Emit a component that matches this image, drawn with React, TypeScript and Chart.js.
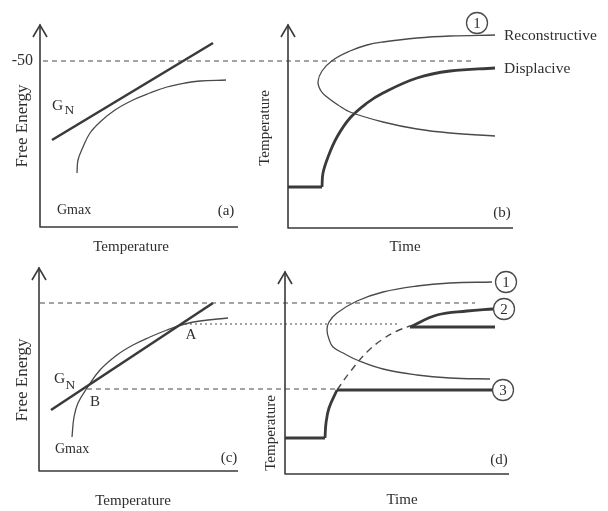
import React, { useEffect, useRef } from "react";
import { Chart, registerables } from "chart.js";

Chart.register(...registerables);

type P = [number, number];

// ---------- Panel (a): free energy vs temperature ----------
const axisA: P[] = [[40, 25], [40, 227], [238, 227]];
const arrowA: P[] = [[33, 37], [40, 25], [47, 37]];
const gnA: P[] = [[52, 140], [213, 43]];
const gmaxA: P[] = [[77, 173], [78, 160], [83, 147], [90, 133], [100, 122], [115, 110], [133, 100], [150, 93], [167, 87], [185, 83], [200, 81], [226, 80]];
const dashTop: P[] = [[43, 61], [473, 61]];

// ---------- Panel (b): temperature vs time ----------
const axisB: P[] = [[288, 25], [288, 228], [513, 228]];
const arrowB: P[] = [[281, 37], [288, 25], [295, 37]];
const reconB: P[] = [[495, 35], [450, 36], [417, 38], [383, 42], [367, 45], [350, 51], [333, 60], [322, 71], [318, 82], [321, 91], [327, 97], [338, 105], [350, 112], [383, 122], [417, 129], [450, 133], [495, 136]];
const displFlatB: P[] = [[288, 187], [322, 187]];
const displCurveB: P[] = [[322, 187], [323, 173], [328, 157], [337, 137], [350, 118], [367, 103], [383, 93], [417, 78], [450, 71], [495, 68]];

// ---------- Panel (c): free energy vs temperature ----------
const axisC: P[] = [[39, 268], [39, 471], [238, 471]];
const arrowC: P[] = [[32, 280], [39, 268], [46, 280]];
const gnC: P[] = [[51, 410], [213, 303]];
const gmaxC: P[] = [[72, 437], [74, 417], [78, 403], [87, 388], [100, 370], [117, 355], [133, 345], [150, 337], [167, 330], [185, 324], [200, 321], [228, 318]];
const dashMid: P[] = [[40, 303], [475, 303]];
const dotA: P[] = [[185, 324], [398, 324]];
const dashB: P[] = [[87, 389], [337, 389]];

// ---------- Panel (d): temperature vs time ----------
const axisD: P[] = [[285, 272], [285, 474], [509, 474]];
const arrowD: P[] = [[278, 284], [285, 272], [292, 284]];
const reconD: P[] = [[492, 282], [450, 283], [417, 286], [383, 292], [357, 301], [337, 313], [329, 322], [327, 330], [329, 339], [333, 347], [345, 354], [357, 360], [383, 369], [417, 375], [450, 378], [490, 379]];
const path3Flat: P[] = [[285, 438], [325, 438]];
const path3Rise: P[] = [[325, 438], [326, 423], [329, 408], [337, 390]];
const path3End: P[] = [[337, 390], [492, 390]];
const path2Dashed: P[] = [[337, 390], [350, 372], [367, 352], [383, 339], [397, 331], [410, 326]];
const path2Curve: P[] = [[410, 327], [437, 315], [467, 311], [493, 309]];
const path2Flat: P[] = [[410, 327], [495, 327]];

// circled path numbers
const circleLabels = ["1", "1", "2", "3"];
const circlePos: P[] = [[477, 23], [506, 282], [504, 309], [503, 390]];

const LINE = "#3a3a3a";
const THIN = "#4a4a4a";
const TEXT = "#2e2e2e";
const FONT = '"Liberation Serif", "Times New Roman", serif';

type T = { text: string; x: number; y: number; size: number; align?: CanvasTextAlign; rot?: number };
const texts: T[] = [
  // (a)
  { text: "-50", x: 33, y: 61, size: 16, align: "right" },
  { text: "G", x: 52, y: 106, size: 15.5, align: "left" },
  { text: "N", x: 64.5, y: 110.5, size: 13.5, align: "left" },
  { text: "Gmax", x: 57, y: 210, size: 14, align: "left" },
  { text: "(a)", x: 226, y: 211, size: 15 },
  { text: "Free Energy", x: 23, y: 126, size: 17, rot: -Math.PI / 2 },
  { text: "Temperature", x: 131, y: 247, size: 15 },
  // (b)
  { text: "Reconstructive", x: 504, y: 36, size: 15.5, align: "left" },
  { text: "Displacive", x: 504, y: 69, size: 15.5, align: "left" },
  { text: "(b)", x: 502, y: 213, size: 15 },
  { text: "Temperature", x: 265, y: 128, size: 15, rot: -Math.PI / 2 },
  { text: "Time", x: 405, y: 247, size: 15 },
  // (c)
  { text: "G", x: 54, y: 379, size: 15.5, align: "left" },
  { text: "N", x: 65.5, y: 385, size: 13.5, align: "left" },
  { text: "B", x: 95, y: 402, size: 15 },
  { text: "A", x: 191, y: 335, size: 15 },
  { text: "Gmax", x: 55, y: 449, size: 14, align: "left" },
  { text: "(c)", x: 229, y: 458, size: 15 },
  { text: "Free Energy", x: 23, y: 380, size: 17, rot: -Math.PI / 2 },
  { text: "Temperature", x: 133, y: 501, size: 15 },
  // (d)
  { text: "(d)", x: 499, y: 460, size: 15 },
  { text: "Temperature", x: 271, y: 433, size: 15, rot: -Math.PI / 2 },
  { text: "Time", x: 402, y: 500, size: 15 },
];

const xy = (pts: P[]) => pts.map(([x, y]) => ({ x, y }));

function line(data: P[], width: number, color: string, opts: any = {}) {
  return {
    data: xy(data),
    showLine: true,
    borderColor: color,
    borderWidth: width,
    pointRadius: 0,
    tension: 0,
    fill: false,
    borderCapStyle: "butt",
    borderJoinStyle: "round",
    ...opts,
  };
}

const textPlugin = {
  id: "schematicText",
  afterDatasetsDraw(chart: any) {
    const { ctx } = chart;
    const xs = chart.scales.x;
    const ys = chart.scales.y;
    texts.forEach((t) => {
      ctx.save();
      ctx.translate(xs.getPixelForValue(t.x), ys.getPixelForValue(t.y));
      if (t.rot) ctx.rotate(t.rot);
      ctx.font = `${t.size}px ${FONT}`;
      ctx.fillStyle = TEXT;
      ctx.textAlign = t.align || "center";
      ctx.textBaseline = "middle";
      ctx.fillText(t.text, 0, 0);
      ctx.restore();
    });
    circlePos.forEach(([x, y], i) => {
      ctx.save();
      ctx.font = `15px ${FONT}`;
      ctx.fillStyle = TEXT;
      ctx.textAlign = "center";
      ctx.textBaseline = "middle";
      ctx.fillText(circleLabels[i], xs.getPixelForValue(x), ys.getPixelForValue(y) + 1);
      ctx.restore();
    });
  },
};

export default function App() {
  const ref = useRef<HTMLCanvasElement | null>(null);
  useEffect(() => {
    if (!ref.current) return;
    const curve = { tension: 0.4 };
    const chart = new Chart(ref.current, {
      type: "scatter",
      data: {
        datasets: [
          // circles on top
          {
            data: xy(circlePos),
            pointRadius: 10.5,
            pointBackgroundColor: "#ffffff",
            pointBorderColor: THIN,
            pointBorderWidth: 1.3,
            showLine: false,
            order: -1,
          } as any,
          // axes
          line(axisA, 1.6, LINE),
          line(arrowA, 1.6, LINE, { borderJoinStyle: "miter" }),
          line(axisB, 1.6, LINE),
          line(arrowB, 1.6, LINE, { borderJoinStyle: "miter" }),
          line(axisC, 1.6, LINE),
          line(arrowC, 1.6, LINE, { borderJoinStyle: "miter" }),
          line(axisD, 1.6, LINE),
          line(arrowD, 1.6, LINE, { borderJoinStyle: "miter" }),
          // reference lines
          line(dashTop, 1.2, THIN, { borderDash: [5, 4] }),
          line(dashMid, 1.2, THIN, { borderDash: [5, 4] }),
          line(dashB, 1.2, THIN, { borderDash: [5, 4] }),
          line(dotA, 1.2, THIN, { borderDash: [2, 3] }),
          // (a)
          line(gnA, 2.6, LINE),
          line(gmaxA, 1.3, THIN, curve),
          // (b)
          line(reconB, 1.3, THIN, curve),
          line(displFlatB, 2.8, LINE),
          line(displCurveB, 2.8, LINE, curve),
          // (c)
          line(gnC, 2.6, LINE),
          line(gmaxC, 1.3, THIN, curve),
          // (d)
          line(reconD, 1.3, THIN, curve),
          line(path3Flat, 2.8, LINE),
          line(path3Rise, 2.8, LINE, curve),
          line(path3End, 2.8, LINE),
          line(path2Dashed, 1.4, THIN, { ...curve, borderDash: [7, 5] }),
          line(path2Curve, 2.8, LINE, curve),
          line(path2Flat, 2.8, LINE),
        ],
      },
      options: {
        animation: false,
        responsive: false,
        devicePixelRatio: 1,
        layout: { padding: 0, autoPadding: false },
        events: [],
        clip: false,
        plugins: { legend: { display: false }, tooltip: { enabled: false } },
        elements: { line: { capBezierPoints: false } },
        scales: {
          x: { type: "linear", display: false, min: 0, max: 608 },
          y: { type: "linear", display: false, min: 0, max: 511, reverse: true },
        },
      } as any,
      plugins: [textPlugin],
    });
    return () => chart.destroy();
  }, []);

  return (
    <div style={{ position: "fixed", left: 0, top: 0, width: 608, height: 511, background: "#ffffff" }}>
      <canvas ref={ref} width={608} height={511} />
    </div>
  );
}
